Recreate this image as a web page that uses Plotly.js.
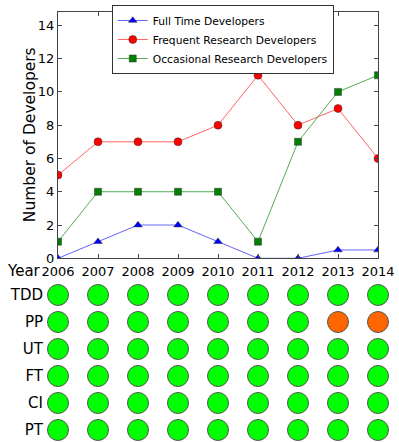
<!DOCTYPE html>
<html>
<head>
<meta charset="utf-8">
<script src="https://cdn.plot.ly/plotly-3.0.1.min.js"></script>
<style>
  body { margin: 0; background: #fff; }
  #chart { width: 399px; height: 442px; }
</style>
</head>
<body>
<div id="chart"></div>
<script>
// years on the shared x axis
var years = [2006, 2007, 2008, 2009, 2010, 2011, 2012, 2013, 2014]

// developer counts per year
var fullTime   = [0, 1, 2, 2, 1, 0, 0, 0.5, 0.5]
var frequent   = [5, 7, 7, 7, 8, 11, 8, 9, 6]
var occasional = [1, 4, 4, 4, 4, 1, 7, 10, 11]

// practices, 1 = used, 0 = not used
var practices = ["TDD", "PP", "UT", "FT", "CI", "PT"]
var tddUse = [1, 1, 1, 1, 1, 1, 1, 1, 1]
var ppUse  = [1, 1, 1, 1, 1, 1, 1, 0, 0]
var utUse  = [1, 1, 1, 1, 1, 1, 1, 1, 1]
var ftUse  = [1, 1, 1, 1, 1, 1, 1, 1, 1]
var ciUse  = [1, 1, 1, 1, 1, 1, 1, 1, 1]
var ptUse  = [1, 1, 1, 1, 1, 1, 1, 1, 1]
var usage = [tddUse, ppUse, utUse, ftUse, ciUse, ptUse]

var font = "DejaVu Sans, sans-serif"
var frameCol = "#444"

var lineTrace = function (name, ys, col, lineCol, symbol, size) {
    return {
        x: years,
        y: ys,
        name: name,
        mode: "lines+markers",
        type: "scatter",
        line: { color: lineCol, width: 1 },
        marker: { color: col, symbol: symbol, size: size, line: { color: "#333", width: 0.5 } }
    }
}

var data = [
    lineTrace("Full Time Developers", fullTime, "#0000ff", "rgba(60,60,255,0.8)", "triangle-up", 7.5),
    lineTrace("Frequent Research Developers", frequent, "#ff0000", "rgba(255,60,60,0.8)", "circle", 8),
    lineTrace("Occasional Research Developers", occasional, "#008000", "rgba(40,150,40,0.8)", "square", 7)
]

// the grid of dots, built from the usage rows
var dotX = [], dotY = [], dotCol = []
practices.forEach(function (p, i) {
    usage[i].forEach(function (u, j) {
        dotX.push(years[j])
        dotY.push(p)
        dotCol.push(u == 1 ? "#00ff00" : "#ff6600")
    })
})
data.push({
    x: dotX,
    y: dotY,
    xaxis: "x2",
    yaxis: "y2",
    mode: "markers",
    type: "scatter",
    showlegend: false,
    cliponaxis: false,
    marker: { color: dotCol, size: 21, line: { color: "#555", width: 1 } }
})

var layout = {
    width: 399,
    height: 442,
    margin: { l: 58, r: 21, t: 12, b: 0 },
    paper_bgcolor: "#fff",
    plot_bgcolor: "#fff",
    font: { family: font, color: "#000" },
    showlegend: true,
    legend: {
        x: 0.168, y: 1.0163, xanchor: "left", yanchor: "top",
        bgcolor: "#fff", bordercolor: "#333", borderwidth: 1,
        font: { family: font, size: 10.7 },
        tracegroupgap: 0
    },
    xaxis: {
        domain: [0, 1], anchor: "y",
        range: [2006, 2014],
        tickvals: years,
        ticks: "inside", ticklen: 4, tickcolor: frameCol,
        showline: true, linecolor: frameCol, mirror: "ticks",
        showgrid: false, zeroline: false,
        ticklabelstandoff: 1,
        tickfont: { family: font, size: 13 }
    },
    yaxis: {
        domain: [0.4272, 1], anchor: "x",
        range: [0, 14.8],
        dtick: 2,
        ticks: "inside", ticklen: 4, tickcolor: frameCol,
        showline: true, linecolor: frameCol, mirror: "ticks",
        showgrid: false, zeroline: false,
        tickfont: { family: font, size: 13 }
    },
    xaxis2: {
        domain: [0, 1], anchor: "y2",
        range: [2006, 2014],
        visible: false
    },
    yaxis2: {
        domain: [0, 0.3733], anchor: "x2",
        type: "category",
        categoryorder: "array",
        categoryarray: practices,
        range: [5.444, -0.5],
        showline: false, showgrid: false, zeroline: false,
        ticks: "", ticklabelstandoff: 14,
        tickfont: { family: font, size: 15 }
    },
    annotations: [{
        text: "Number of Developers",
        xref: "paper", yref: "paper",
        x: -0.0875, y: 0.7136,
        xanchor: "center", yanchor: "middle",
        textangle: -90,
        showarrow: false,
        font: { family: font, size: 15.5 }
    }, {
        text: "Year",
        xref: "paper", yref: "paper",
        x: -0.056, y: 0.3977,
        xanchor: "right", yanchor: "middle",
        xshift: 3,
        showarrow: false,
        font: { family: font, size: 15 }
    }]
}

Plotly.newPlot("chart", data, layout, { displayModeBar: false, staticPlot: true })
</script>
</body>
</html>
